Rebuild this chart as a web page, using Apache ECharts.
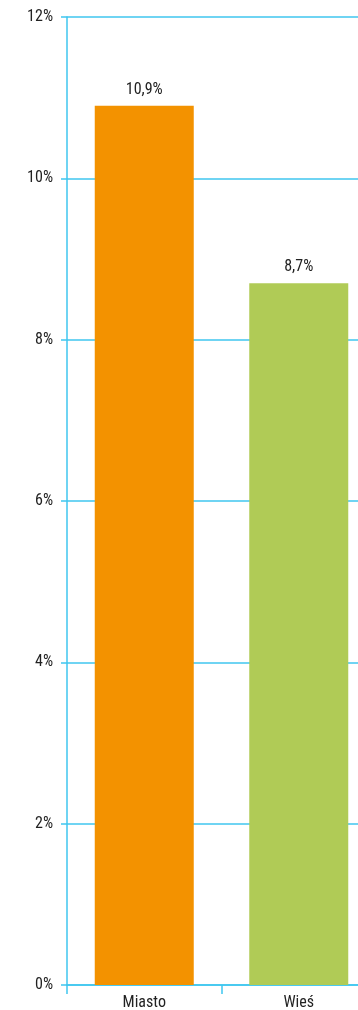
<!DOCTYPE html>
<html>
<head>
<meta charset="utf-8">
<script src="https://cdn.jsdelivr.net/npm/echarts@6/dist/echarts.min.js"></script>
<style>
html,body{margin:0;padding:0;background:#fff;}
#main{width:358px;height:1010px;}
</style>
</head>
<body>
<div id="main"></div>
<script>
var categories = ['Miasto', 'Wieś'];
var values = [10.9, 8.7];
var barColors = ['#F39200', '#B0CB56'];

var lineColor = '#3FC6EF';
var font = '"Liberation Sans Narrow", "Roboto Condensed", Roboto, sans-serif';

var myChart = echarts.init(document.getElementById('main'));

var seriesData = [];
for (var i = 0; i < values.length; i++) {
	seriesData.push({ value: values[i], itemStyle: { color: barColors[i] } });
}

var option = {
	animation: false,
	grid: {
		left: 67,
		width: 309,
		top: 17,
		bottom: 25,
		outerBoundsMode: 'none'
	},
	xAxis: {
		type: 'category',
		data: categories,
		axisLine: { lineStyle: { color: lineColor, width: 1.5 } },
		axisTick: { show: true, length: 9, lineStyle: { color: lineColor, width: 1.5 } },
		axisLabel: { color: '#222', fontFamily: font, fontSize: 16, margin: 10 }
	},
	yAxis: {
		type: 'value',
		min: 0,
		max: 12,
		interval: 2,
		axisLine: { show: true, lineStyle: { color: lineColor, width: 1.5 } },
		axisTick: { show: true, length: 6, lineStyle: { color: lineColor, width: 1.5 } },
		axisLabel: { formatter: '{value}%', color: '#222', fontFamily: font, fontSize: 16, margin: 14 },
		splitLine: { show: true, lineStyle: { color: lineColor, width: 1.5 } }
	},
	series: [{
		type: 'bar',
		data: seriesData,
		barWidth: 99,
		label: {
			show: true,
			position: 'top',
			distance: 8,
			color: '#222',
			fontFamily: font,
			fontSize: 16,
			formatter: function (p) { return String(p.value).replace('.', ',') + '%'; }
		}
	}]
};

myChart.setOption(option);
</script>
</body>
</html>
